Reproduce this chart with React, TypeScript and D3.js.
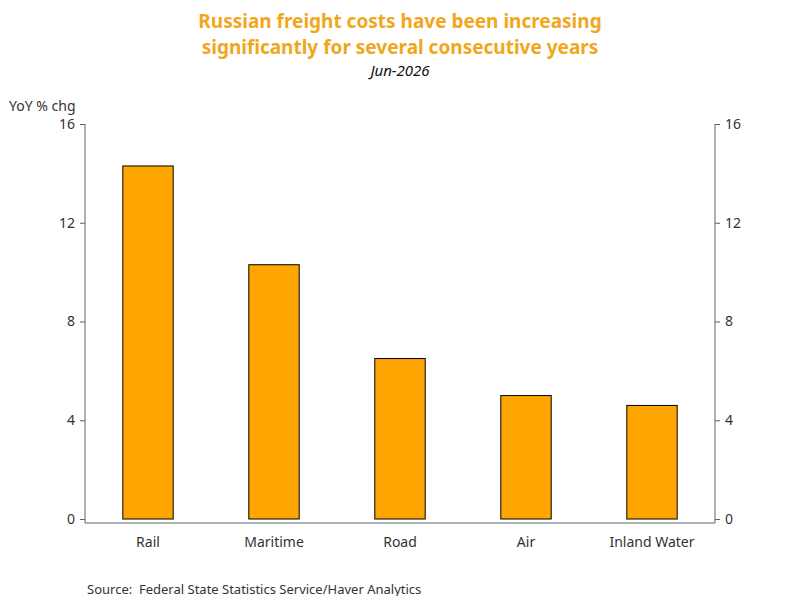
import React, { useEffect, useRef } from "react";
import * as d3 from "d3";

const categories = ["Rail", "Maritime", "Road", "Air", "Inland Water"];
const yoyChange = [14.3, 10.3, 6.5, 5.0, 4.6];
const yTicks = [0, 4, 8, 12, 16];

const titleLines = [
  "Russian freight costs have been increasing",
  "significantly for several consecutive years",
];
const subtitle = "Jun-2026";
const axisLabel = "YoY % chg";
const sourceText = "Source:  Federal State Statistics Service/Haver Analytics";

const width = 800;
const height = 600;
const font = "'Segoe UI', 'Noto Sans', 'Open Sans', sans-serif";

export default function App() {
  const ref = useRef<SVGSVGElement>(null);

  useEffect(() => {
    if (!ref.current) return;
    const svg = d3.select(ref.current);
    svg.selectAll("*").remove();

    const left = 85;
    const right = 715;
    const top = 124;
    const zero = 519;
    const bottom = 523;

    const x = d3.scaleBand<string>().domain(categories).range([left, right]).paddingInner(0.6).paddingOuter(0.3);
    const y = d3.scaleLinear().domain([0, 16]).range([zero, top]);

    svg.append("rect").attr("width", width).attr("height", height).attr("fill", "#fff");

    // titles
    titleLines.forEach((t, i) => {
      svg
        .append("text")
        .attr("x", 400)
        .attr("y", 28 + i * 26)
        .attr("text-anchor", "middle")
        .attr("font-family", font)
        .attr("font-size", 19)
        .attr("font-weight", "bold")
        .attr("fill", "#F0A71C")
        .text(t);
    });
    svg
      .append("text")
      .attr("x", 400)
      .attr("y", 76)
      .attr("text-anchor", "middle")
      .attr("font-family", font)
      .attr("font-size", 15)
      .attr("font-style", "italic")
      .attr("fill", "#111")
      .text(subtitle);

    svg
      .append("text")
      .attr("x", 9)
      .attr("y", 111)
      .attr("font-family", font)
      .attr("font-size", 14)
      .attr("fill", "#333")
      .text(axisLabel);

    // bars
    svg
      .selectAll("rect.bar")
      .data(yoyChange)
      .join("rect")
      .attr("class", "bar")
      .attr("x", (_, i) => x(categories[i])!)
      .attr("width", x.bandwidth())
      .attr("y", (d) => y(d))
      .attr("height", (d) => y(0) - y(d))
      .attr("fill", "#FFA500")
      .attr("stroke", "#000")
      .attr("stroke-width", 1);

    const axisColor = "#5a6370";

    // frame lines
    svg.append("line").attr("x1", left).attr("x2", left).attr("y1", top).attr("y2", bottom).attr("stroke", axisColor);
    svg.append("line").attr("x1", right).attr("x2", right).attr("y1", top).attr("y2", bottom).attr("stroke", axisColor);
    svg.append("line").attr("x1", left).attr("x2", right).attr("y1", bottom).attr("y2", bottom).attr("stroke", axisColor);

    // left axis
    const leftAxis = svg.append("g").attr("transform", `translate(${left},0)`).call(d3.axisLeft(y).tickValues(yTicks).tickSize(5).tickPadding(5));
    const rightAxis = svg.append("g").attr("transform", `translate(${right},0)`).call(d3.axisRight(y).tickValues(yTicks).tickSize(5).tickPadding(5));
    [leftAxis, rightAxis].forEach((g) => {
      g.select(".domain").remove();
      g.selectAll("line").attr("stroke", axisColor);
      g.selectAll("text").attr("font-family", font).attr("font-size", 14).attr("fill", "#333");
    });

    // category labels
    svg
      .selectAll("text.cat")
      .data(categories)
      .join("text")
      .attr("class", "cat")
      .attr("x", (d) => x(d)! + x.bandwidth() / 2)
      .attr("y", 547)
      .attr("text-anchor", "middle")
      .attr("font-family", font)
      .attr("font-size", 14)
      .attr("fill", "#333")
      .text((d) => d);

    svg
      .append("text")
      .attr("x", 87)
      .attr("y", 594)
      .attr("font-family", font)
      .attr("font-size", 13)
      .attr("fill", "#333")
      .attr("xml:space", "preserve")
      .style("white-space", "pre")
      .text(sourceText);
  }, []);

  return (
    <div style={{ margin: -8 }}>
      <svg ref={ref} width={width} height={height} />
    </div>
  );
}
